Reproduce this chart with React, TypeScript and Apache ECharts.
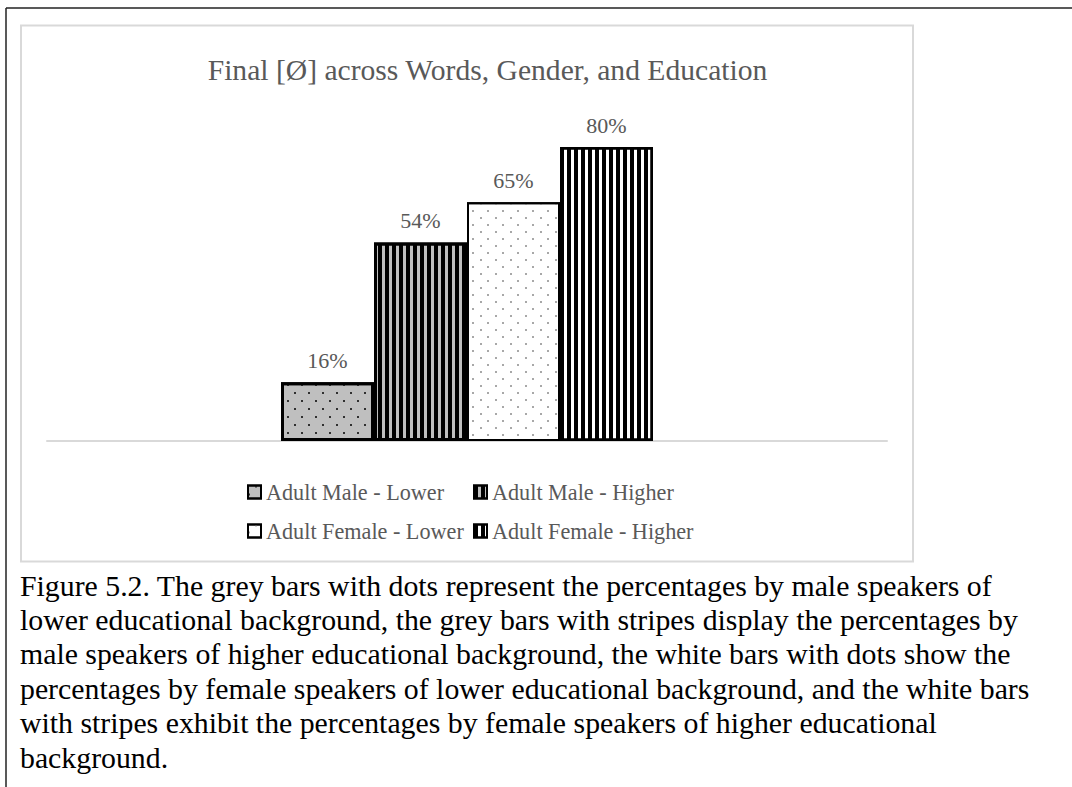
import React, { useEffect, useRef } from "react";
import * as echarts from "echarts";

// Chart content
const chartTitle = "Final [Ø] across Words, Gender, and Education";
const categories = ["Final [Ø]"];
const seriesNames = [
  "Adult Male - Lower",
  "Adult Male - Higher",
  "Adult Female - Lower",
  "Adult Female - Higher",
];
const percentages = [16, 54, 65, 80];
const captionLines = [
  "Figure 5.2. The grey bars with dots represent the percentages by male speakers of",
  "lower educational background, the grey bars with stripes display the percentages by",
  "male speakers of higher educational background, the white bars with dots show the",
  "percentages by female speakers of lower educational background, and the white bars",
  "with stripes exhibit the percentages by female speakers of higher educational",
  "background.",
];

const SERIF = "'Liberation Serif', 'Times New Roman', serif";
const TEXT_GREY = "#595959";

// Fill, border and pattern for each bar
const barStyles = [
  {
    color: "#bfbfbf",
    borderWidth: 3,
    decal: {
      symbol: "rect",
      symbolSize: 1,
      symbolKeepAspect: false,
      color: "#303030",
      dashArrayX: [[2, 12], [0, 7, 2, 5]],
      dashArrayY: [2, 6],
    },
  },
  {
    color: "#bfbfbf",
    borderWidth: 3,
    decal: {
      symbol: "rect",
      symbolSize: 1,
      symbolKeepAspect: false,
      color: "#000000",
      dashArrayX: [4, 3],
      dashArrayY: [10, 0],
    },
  },
  {
    color: "#ffffff",
    borderWidth: 2,
    decal: {
      symbol: "rect",
      symbolSize: 1,
      symbolKeepAspect: false,
      color: "#a8a8a8",
      dashArrayX: [[2, 13], [0, 7, 2, 6]],
      dashArrayY: [2, 5],
    },
  },
  {
    color: "#ffffff",
    borderWidth: 2.5,
    decal: {
      symbol: "rect",
      symbolSize: 1,
      symbolKeepAspect: false,
      color: "#000000",
      dashArrayX: [4, 3],
      dashArrayY: [10, 0],
    },
  },
];

function buildOption(): echarts.EChartsOption {
  const series = seriesNames.map((name, i) => ({
    type: "bar" as const,
    name,
    data: [percentages[i]],
    barWidth: 93,
    barGap: "0%",
    itemStyle: {
      color: barStyles[i].color,
      borderColor: "#000000",
      borderWidth: barStyles[i].borderWidth,
      decal: barStyles[i].decal,
    },
    label: {
      show: true,
      position: "top" as const,
      distance: 11,
      formatter: "{c}%",
      color: TEXT_GREY,
      fontFamily: SERIF,
      fontSize: 22,
    },
    emphasis: { disabled: true },
  }));

  const legendCommon = {
    orient: "vertical" as const,
    icon: "rect",
    itemWidth: 13,
    itemHeight: 13,
    itemGap: 17,
    padding: 0,
    top: 481,
    selectedMode: false as const,
    itemStyle: { borderWidth: 2, borderColor: "#000000" },
    textStyle: {
      color: TEXT_GREY,
      fontFamily: SERIF,
      fontSize: 22.2,
      lineHeight: 22,
      padding: [0, 0, 0, 0],
    },
  };

  const graphic: any[] = [
    // page frame
    {
      type: "line",
      shape: { x1: 6, y1: 8, x2: 1072, y2: 8 },
      style: { stroke: "#222222", lineWidth: 1.5 },
      silent: true,
    },
    {
      type: "line",
      shape: { x1: 6, y1: 8, x2: 6, y2: 787 },
      style: { stroke: "#222222", lineWidth: 1.5 },
      silent: true,
    },
    // chart area border
    {
      type: "rect",
      shape: { x: 21, y: 25.5, width: 892, height: 536 },
      style: { fill: "none", stroke: "#d9d9d9", lineWidth: 2 },
      silent: true,
    },
    {
      type: "text",
      x: 487.5,
      y: 70,
      style: {
        text: chartTitle,
        fill: TEXT_GREY,
        font: `29.6px ${SERIF}`,
        textAlign: "center",
        textVerticalAlign: "middle",
      },
      silent: true,
    },
  ];

  captionLines.forEach((line, i) => {
    graphic.push({
      type: "text",
      x: 20,
      y: 585 + i * 34.4,
      style: {
        text: line,
        fill: "#000000",
        font: `29.8px ${SERIF}`,
        textAlign: "left",
        textVerticalAlign: "middle",
      },
      silent: true,
    });
  });

  return {
    animation: false,
    backgroundColor: "#ffffff",
    grid: { left: 47, width: 840, top: 73.5, height: 367.5 },
    xAxis: {
      type: "category",
      data: categories,
      axisLine: { show: true, lineStyle: { color: "#d9d9d9", width: 2 } },
      axisTick: { show: false },
      axisLabel: { show: false },
      splitLine: { show: false },
    },
    yAxis: {
      type: "value",
      min: 0,
      max: 100,
      show: false,
      splitLine: { show: false },
    },
    legend: [
      { ...legendCommon, left: 247, data: [seriesNames[0], seriesNames[2]] },
      { ...legendCommon, left: 473, data: [seriesNames[1], seriesNames[3]] },
    ],
    tooltip: { show: false },
    series,
    graphic,
  };
}

export default function App() {
  const ref = useRef<HTMLDivElement>(null);

  useEffect(() => {
    if (!ref.current) return;
    const chart = echarts.init(ref.current, undefined, { renderer: "svg" });
    chart.setOption(buildOption());
    return () => chart.dispose();
  }, []);

  return (
    <div
      ref={ref}
      style={{
        position: "absolute",
        left: 0,
        top: 0,
        width: 1072,
        height: 787,
        background: "#ffffff",
      }}
    />
  );
}
